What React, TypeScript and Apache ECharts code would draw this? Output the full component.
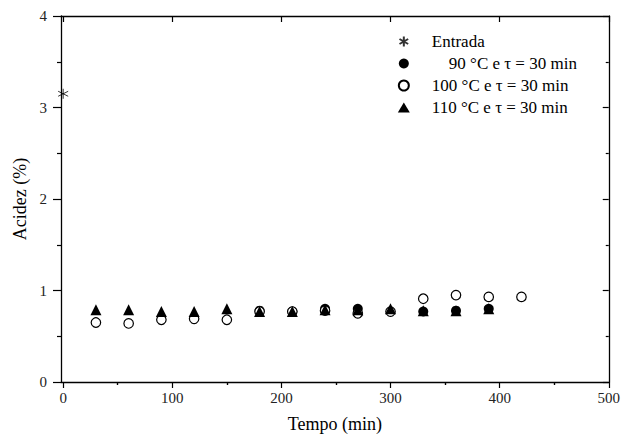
import React, { useEffect, useRef } from "react";
import * as echarts from "echarts";

const xMajorTicks = [0, 100, 200, 300, 400, 500];
const xMinorTicks = [50, 150, 250, 350, 450];

const entradaTime = [0];
const entradaAcid = [3.15];

const time90 = [180, 210, 240, 270, 330, 360, 390];
const acid90 = [0.78, 0.77, 0.8, 0.8, 0.77, 0.78, 0.8];

const time100 = [30, 60, 90, 120, 150, 180, 210, 240, 270, 300, 330, 360, 390, 420];
const acid100 = [0.65, 0.64, 0.68, 0.69, 0.68, 0.77, 0.77, 0.78, 0.75, 0.77, 0.91, 0.95, 0.93, 0.93];

const time110 = [30, 60, 90, 120, 150, 180, 210, 240, 270, 300, 330, 360, 390];
const acid110 = [0.79, 0.79, 0.77, 0.77, 0.8, 0.77, 0.77, 0.79, 0.79, 0.8, 0.78, 0.78, 0.8];

const names = [
  "Entrada",
  "\u2007\u200790 °C e τ = 30 min",
  "100 °C e τ = 30 min",
  "110 °C e τ = 30 min",
];

const FONT = "Liberation Serif";

const zip = (xs: number[], ys: number[]) => xs.map((x, i) => [x, ys[i]]);

export default function App() {
  const ref = useRef<HTMLDivElement>(null);
  useEffect(() => {
    if (!ref.current) return;
    const chart = echarts.init(ref.current, null, { renderer: "svg" });
    const axisLine = { show: true, onZero: false, lineStyle: { color: "#000", width: 1.3 } };
    const baseX = { type: "value", min: -2, max: 500, splitLine: { show: false } };
    chart.setOption({
      animation: false,
      backgroundColor: "#fff",
      grid: { left: 61, right: 11, top: 16, bottom: 57, containLabel: false },
      legend: {
        orient: "vertical",
        left: 392,
        top: 28,
        itemWidth: 12,
        itemHeight: 10,
        itemGap: 5,
        data: names,
        textStyle: { fontFamily: FONT, fontSize: 17, color: "#000", lineHeight: 17, padding: [0, 0, 0, 17] },
      },
      xAxis: [
        {
          ...baseX,
          position: "bottom",
          name: "Tempo (min)",
          nameLocation: "middle",
          nameGap: 33,
          nameTextStyle: { fontFamily: FONT, fontSize: 18, color: "#000" },
          axisLine,
          axisTick: { show: true, inside: false, length: 6, customValues: xMajorTicks, lineStyle: { color: "#000", width: 1.2 } },
          axisLabel: { show: true, customValues: xMajorTicks, margin: 8, fontFamily: FONT, fontSize: 15, color: "#222" },
        },
        {
          ...baseX,
          position: "bottom",
          axisLine: { show: false },
          axisTick: { show: true, inside: false, length: 3, customValues: xMinorTicks, lineStyle: { color: "#000", width: 1.2 } },
          axisLabel: { show: false },
        },
        {
          ...baseX,
          position: "top",
          axisLine,
          axisTick: { show: true, inside: true, length: 6, customValues: xMajorTicks, lineStyle: { color: "#000", width: 1.2 } },
          axisLabel: { show: false },
        },
        {
          ...baseX,
          position: "top",
          axisLine: { show: false },
          axisTick: { show: true, inside: true, length: 3, customValues: xMinorTicks, lineStyle: { color: "#000", width: 1.2 } },
          axisLabel: { show: false },
        },
      ],
      yAxis: [
        {
          type: "value",
          min: 0,
          max: 4,
          interval: 1,
          position: "left",
          name: "Acidez (%)",
          nameLocation: "middle",
          nameGap: 29,
          nameTextStyle: { fontFamily: FONT, fontSize: 18, color: "#000" },
          axisLine,
          splitLine: { show: false },
          axisTick: { show: true, inside: false, length: 8, lineStyle: { color: "#000", width: 1.2 } },
          minorTick: { show: true, splitNumber: 2, length: 4, lineStyle: { color: "#000", width: 1.2 } },
          minorSplitLine: { show: false },
          axisLabel: { margin: 14, fontFamily: FONT, fontSize: 15, color: "#222" },
        },
        {
          type: "value",
          min: 0,
          max: 4,
          interval: 1,
          position: "right",
          axisLine,
          splitLine: { show: false },
          axisTick: { show: true, inside: true, length: 6, lineStyle: { color: "#000", width: 1.2 } },
          minorTick: { show: true, splitNumber: 2, length: 3, lineStyle: { color: "#000", width: 1.2 } },
          minorSplitLine: { show: false },
          axisLabel: { show: false },
        },
      ],
      series: [
        {
          name: names[0],
          type: "scatter",
          data: zip(entradaTime, entradaAcid),
          symbol: "path://M5,0L5,10M0.67,2.5L9.33,7.5M0.67,7.5L9.33,2.5",
          symbolSize: 10,
          itemStyle: { color: "none", borderColor: "#000", borderWidth: 1 },
        },
        {
          name: names[1],
          type: "scatter",
          data: zip(time90, acid90),
          symbol: "circle",
          symbolSize: 10,
          itemStyle: { color: "#000", opacity: 1 },
        },
        {
          name: names[2],
          type: "scatter",
          data: zip(time100, acid100),
          symbol: "circle",
          symbolSize: 9.5,
          itemStyle: { color: "#fff", borderColor: "#000", borderWidth: 1.2, opacity: 1 },
        },
        {
          name: names[3],
          type: "scatter",
          data: zip(time110, acid110),
          symbol: "triangle",
          symbolSize: 11,
          itemStyle: { color: "#000", opacity: 1 },
        },
      ],
    });
    return () => chart.dispose();
  }, []);
  return <div ref={ref} style={{ width: 623, height: 439, position: "absolute", left: 0, top: 0 }} />;
}
